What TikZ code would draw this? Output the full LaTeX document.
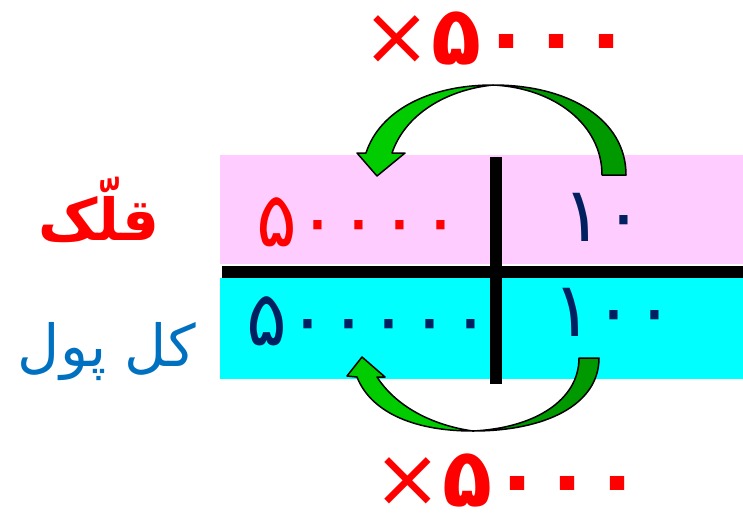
\documentclass[tikz,border=0pt]{standalone}
\usepackage{fontspec}
\newfontfamily\arabicfont[Script=Arabic]{DejaVu Sans}
\newfontfamily\digitfont{DejaVu Sans}
\TeXXeTstate=1
\definecolor{pinkband}{HTML}{FFCCFF}
\definecolor{cyanband}{HTML}{00FFFF}
\definecolor{navy}{HTML}{002060}
\definecolor{labelblue}{HTML}{0070C0}
\definecolor{lightgreen}{HTML}{00CC00}
\definecolor{darkgreen}{HTML}{009900}
\tikzset{
  digits/.style={inner sep=0pt, font=\digitfont\fontsize{76}{76}\selectfont},
  factor/.style={inner sep=0pt, text=red, font=\digitfont\bfseries\fontsize{82}{82}\selectfont},
  word/.style={inner sep=0pt, font=\arabicfont\fontsize{58}{58}\selectfont},
  arrowpart/.style={draw=black, line width=1.5pt, line join=round}
}

\begin{document}
\begin{tikzpicture}[x=1pt,y=-1pt]
        \useasboundingbox (0,0) rectangle (743,519);
        % bands of the table
        \fill[pinkband] (220,155) rectangle (743,264);
        \fill[cyanband] (220,278) rectangle (743,379);
        \draw[line width=12pt] (222,272) -- (743,272);
        \draw[line width=12pt] (496,157) -- (496,384);

        \node (A) at (497,38) [factor] {{\mdseries ×}۵۰۰۰};
        \node (B) at (359,222) [digits, text=red] {۵۰۰۰۰};
        \node (C) at (603,217) [digits, text=navy] {۱۰};
        \node (D) at (369,321) [digits, text=navy] {۵۰۰۰۰۰};
        \node (E) at (614,312) [digits, text=navy] {۱۰۰};
        \node (F) at (508,480) [factor] {{\mdseries ×}۵۰۰۰};
        \node (G) at (99,210) [word, text=red, font=\arabicfont\bfseries\fontsize{58}{58}\selectfont] {\beginR قلّک\endR};
        \node (H) at (107,352) [word, text=labelblue] {\beginR کل پول\endR};

        % upper curved arrow
        \filldraw[arrowpart, fill=darkgreen] (626,175) .. controls (626,120) and (570,85) .. (493,85)
            .. controls (555,88) and (602,125) .. (602,175) -- cycle;
        \filldraw[arrowpart, fill=lightgreen] (493,85) .. controls (430,85) and (380,110) .. (366,153)
            -- (357,153) -- (377,176) -- (405,153) -- (392,153)
            .. controls (405,115) and (445,90) .. (493,85) -- cycle;
        % lower curved arrow
        \filldraw[arrowpart, fill=darkgreen] (599,358) .. controls (599,405) and (545,431) .. (473,431)
            .. controls (535,428) and (579,400) .. (579,358) -- cycle;
        \filldraw[arrowpart, fill=lightgreen] (473,431) .. controls (410,431) and (370,410) .. (357,377)
            -- (347,376) -- (362,357) -- (385,377) -- (377,377)
            .. controls (395,405) and (430,425) .. (473,431) -- cycle;

    \end{tikzpicture}
\end{document}
